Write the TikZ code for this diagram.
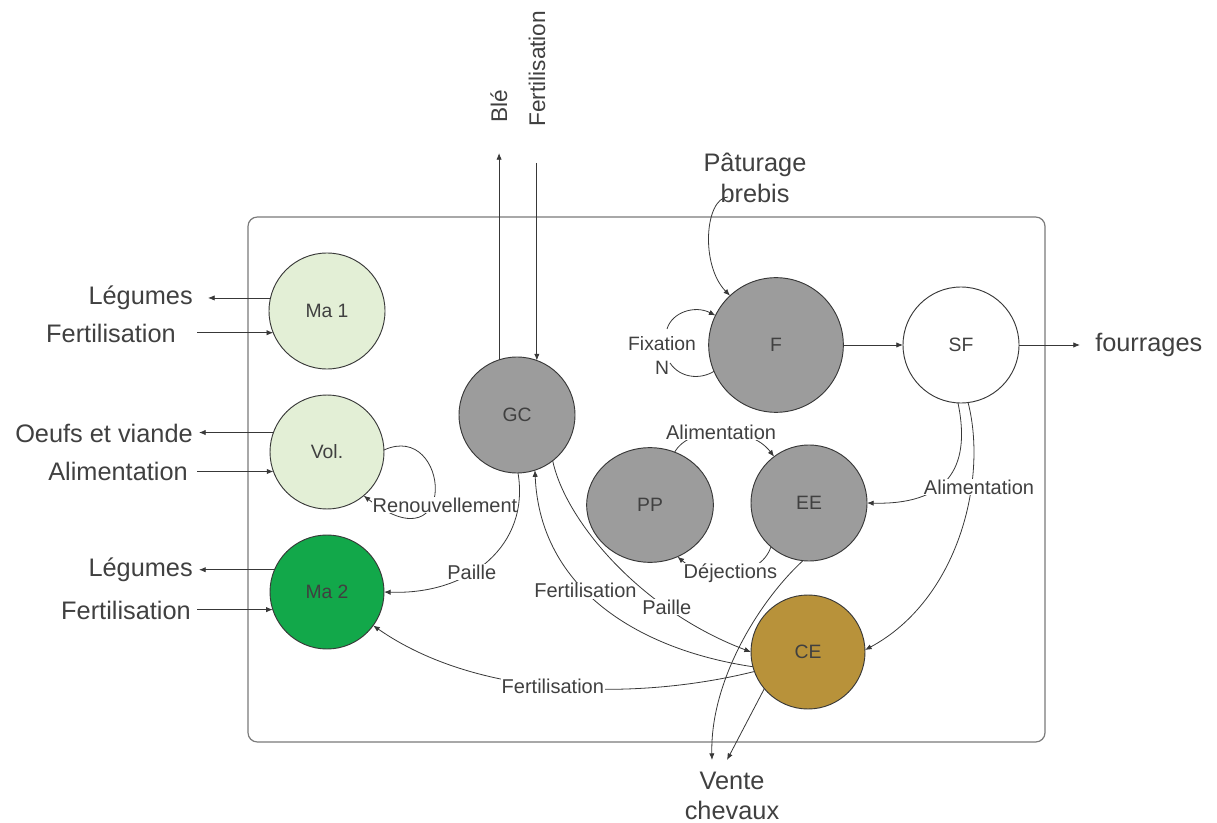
\documentclass[tikz,border=0pt]{standalone}
\usepackage{fontspec}
\setmainfont{Liberation Sans}
\usetikzlibrary{arrows.meta,shapes.geometric}
\definecolor{txt}{HTML}{404040}
\definecolor{ln}{HTML}{383838}
\definecolor{pale}{HTML}{E3EFD6}
\definecolor{grn}{HTML}{12A84A}
\definecolor{gry}{HTML}{9C9C9C}
\definecolor{ocre}{HTML}{B8923A}
\definecolor{frm}{HTML}{7A7A7A}
\begin{document}
\begin{tikzpicture}[x=0.75pt,y=-0.75pt,
  every node/.style={text=txt},
  unit/.style={circle, draw=ln, line width=0.7pt, minimum size=#1, inner sep=0pt, outer sep=0pt, font=\fontsize{14.5}{17}\selectfont},
  arr/.style={draw=ln, line width=0.6pt, -{Latex[length=5pt,width=4pt]}},
  outer/.style={font=\fontsize{19}{23}\selectfont, inner sep=0pt},
  toplab/.style={font=\fontsize{17}{20}\selectfont, inner sep=0pt, rotate=90, anchor=west},
  elab/.style={font=\fontsize{15}{18}\selectfont, fill=white, inner sep=0.5pt},
  nlab/.style={font=\fontsize{14.5}{18}\selectfont, inner sep=0pt},
]
\useasboundingbox (0,0) rectangle (1217,823);
\draw[frm, line width=0.9pt, rounded corners=7pt] (248,217) rectangle (1045,742);

% units
\node[unit=87pt, fill=pale] (Ma1) at (327,311) {Ma 1};
\node[unit=85.5pt, fill=pale] (Vol) at (327,452) {Vol.};
\node[unit=85.5pt, fill=grn] (Ma2) at (327,592) {Ma 2};
\node[unit=87pt, fill=gry] (GC) at (517,415) {GC};
\node[ellipse, draw=ln, line width=0.7pt, fill=gry, minimum width=95pt, minimum height=86pt, inner sep=0pt, outer sep=0pt, font=\fontsize{14.5}{17}\selectfont] (PP) at (650,505) {PP};
\node[unit=87pt, fill=gry] (EE) at (809,503) {EE};
\node[unit=101pt, fill=gry] (F) at (776,345) {F};
\node[unit=87pt, fill=white] (SF) at (961,345) {SF};
\node[unit=85.5pt, fill=ocre] (CE) at (808,652) {CE};

% left side
\node[outer, anchor=east, inner xsep=11.25pt] (leg1) at (208,298) {Légumes};
\draw[arr] (Ma1.167) -- (Ma1.167 -| leg1.east);
\node[outer, anchor=east, inner xsep=15.75pt] (fert1) at (197,333) {Fertilisation};
\draw[arr] (fert1.east |- Ma1.202) -- (Ma1.202);
\node[outer, anchor=east, inner xsep=4.5pt] (oeuf) at (199,433) {Oeufs et viande};
\draw[arr] (Vol.160) -- (Vol.160 -| oeuf.east);
\node[outer, anchor=east, inner xsep=6.75pt] (alim1) at (197,471) {Alimentation};
\draw[arr] (alim1.east |- Vol.200) -- (Vol.200);
\node[outer, anchor=east, inner xsep=4.5pt] (leg2) at (199,570) {Légumes};
\draw[arr] (Ma2.157) -- (Ma2.157 -| leg2.east);
\node[outer, anchor=east, inner xsep=4.5pt] (fert2) at (197,610) {Fertilisation};
\draw[arr] (fert2.east |- Ma2.198) -- (Ma2.198);

% top
\node[toplab, inner xsep=22.5pt] (ble) at (499,153) {Blé};
\draw[arr] (GC.108) -- (GC.108 |- ble.west);
\node[toplab, inner xsep=27pt] (fert0) at (537,163) {Fertilisation};
\draw[arr] (GC.70 |- fert0.west) -- (GC.70);

% paturage
\node[outer, align=center] (past) at (755,178) {Pâturage\\brebis};
\coordinate (pb) at (728,197);
\draw[arr] (pb) .. controls (705,198) and (700,265) .. (F.133);

% fixation
\draw[arr] (F.203) .. controls (700,380) and (680,378) .. (670,363)
           (667,329) .. controls (672,312) and (695,305) .. (F.154);
\node[nlab, align=center] (fix) at (662,355) {Fixation\\N};

\draw[arr] (F.east) -- (SF.west);
\node[outer, anchor=west, inner xsep=11.25pt] (four) at (1080,345) {fourrages};
\draw[arr] (SF.east) -- (four.west);

% renouvellement
\draw[arr] (Vol.2) .. controls (450,420) and (460,570) .. (Vol.-50);
\node[elab] (ren) at (445,505) {Renouvellement};

% GC -> Ma2
\draw[arr] (GC.-89) .. controls (530,545) and (470,595) .. (Ma2.east) node[elab, pos=0.6] (pa1) {Paille};

% CE -> GC
\draw[arr] (CE.195) .. controls (640,650) and (540,590) .. (GC.-72) node[elab, pos=0.58] (fe1) {Fertilisation};
% GC -> CE
\draw[arr] (GC.-52) .. controls (565,520) and (640,610) .. (CE.180) node[elab, pos=0.72] (pa2) {Paille};
% CE -> Ma2
\draw[arr] (CE.200) .. controls (640,700) and (480,700) .. (Ma2.-36) node[elab, pos=0.52] (fe2) {Fertilisation};

% PP <-> EE
\draw[arr] (PP.65) .. controls (690,425) and (750,425) .. (EE.127) node[elab, pos=0.5] (al2) {Alimentation};
\draw[arr] (EE.-131) .. controls (760,580) and (705,580) .. (PP.-62) node[elab, pos=0.5] (dej) {Déjections};

% SF -> CE, EE
\draw[arr] (SF.-83) .. controls (988,480) and (958,600) .. (CE.2);
\draw[arr] (SF.-93) .. controls (972,470) and (945,505) .. (EE.east);
\node[elab] (alSF) at (979,487) {Alimentation};

% vente
\node[outer, align=center] (vente) at (732,796) {Vente\\chevaux};
\coordinate (v1) at (712,760);
\coordinate (v2) at (727,760);
\draw[arr] (EE.-96) .. controls (760,600) and (710,680) .. (v1);
\draw[arr] (CE.-140) -- (v2);
\end{tikzpicture}
\end{document}
